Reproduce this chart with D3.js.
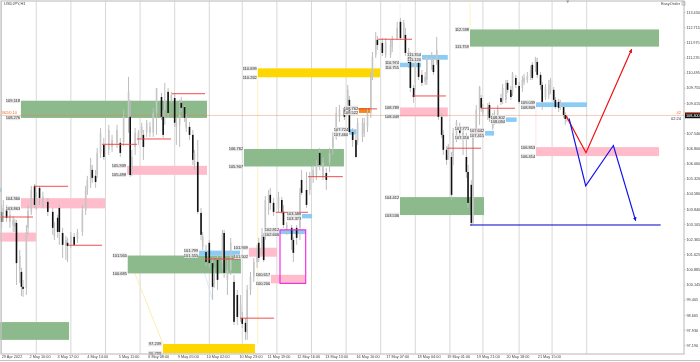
<!DOCTYPE html>
<html>
<head>
<meta charset="utf-8">
<script src="https://cdn.jsdelivr.net/npm/d3@7"></script>
<style>
  html, body { margin: 0; background: #fff; overflow: hidden; }
  svg { display: block; font-family: "Liberation Sans", sans-serif; filter: blur(0.3px); }
</style>
</head>
<body>
<svg width="700" height="362"></svg>
<script>
// bar number on the time axis, one entry per candle
let barIndex = [
  1,2,4,6,8,9,10,12,13,14,
  16,17,19,21,22,24,26,29,32,33,
  35,36,38,40,41,43,45,47,50,52,
  53,55,56,58,59,61,63,66,68,71,
  73,75,78,79,80,82,84,86,87,89,
  91,93,95,98,99,100,102,104,106,107,
  109,110,112,113,115,117,118,120,122,123,
  125,127,129,130,132,135,136,138,140,142,
  144,146,147,149,150,152,154,156,157,159,
  160,161,163,164,166,169,171,172,174,177,
  178,180,182,183,186,188,190,192,194,196,
  198,200,202,204,206,209,211,212,214,216,
  217,220,221,223,225,226,228,229,232,234,
  237,238,241,243,245,246,248,249,251,252,
  254,256,258,259,262,263,265,266,268,269,
  271,272,274,275,277,279,281,283,284,286,
  287,289,291,292,293,296,297,299,300,302,
  304,305,307,308,310,311,313,315,317,318,
  320,322,323,325,326,328,329,331,333,334,
  336,337,339,340,342,343,344
]

let opens = [
  103.69,103.49,103.79,103.20,103.01,102.96,103.15,100.86,100.76,100.03,
  99.98,102.91,103.69,104.96,103.93,104.86,104.08,104.18,103.69,102.52,
  103.40,103.88,102.66,102.03,102.18,102.13,102.47,102.37,102.71,103.79,
  104.76,105.25,105.74,105.45,105.49,106.57,106.96,106.72,106.86,107.06,
  107.06,107.10,108.33,108.33,105.59,106.86,107.20,107.55,107.45,107.59,
  107.55,107.55,108.52,109.30,108.33,108.67,109.55,109.16,109.25,107.84,
  107.94,109.01,108.81,107.79,107.84,107.45,105.98,106.13,103.64,101.98,
  101.73,102.18,101.19,100.22,101.34,101.19,102.66,100.37,100.86,100.27,
  99.63,98.66,98.51,98.27,97.78,99.88,100.52,101.24,102.18,101.83,
  102.47,102.47,104.27,104.52,104.13,103.88,104.27,103.69,102.81,102.91,
  102.32,102.91,102.91,105.25,104.76,104.76,105.40,105.49,106.57,105.40,
  105.59,106.08,106.81,107.35,108.33,108.67,109.01,109.16,107.59,107.20,
  107.15,107.35,107.55,107.84,108.52,110.28,111.35,112.09,111.94,111.35,
  111.35,111.74,112.18,112.97,112.33,112.33,111.45,111.35,109.74,109.99,
  110.96,110.38,110.04,110.13,110.87,110.87,111.01,111.11,108.33,107.45,
  106.72,106.47,106.37,106.37,107.30,107.84,107.20,106.37,105.64,105.01,
  103.15,107.55,108.67,109.25,108.52,108.42,108.91,107.79,108.08,108.33,
  109.25,109.16,109.16,109.99,109.65,109.50,110.23,109.84,109.74,110.04,
  110.13,110.28,110.87,110.72,111.01,110.38,109.89,109.30,109.40,109.65,
  109.65,109.16,109.06,108.81,108.81,108.42,108.23
]

let closes = [
  103.20,103.88,103.40,103.55,103.30,103.20,101.19,101.54,100.03,99.93,
  102.71,103.74,104.76,104.03,104.42,104.37,104.42,103.69,102.91,102.91,
  102.71,102.71,102.08,102.32,102.03,102.52,102.08,102.71,103.79,104.76,
  105.25,105.98,105.35,105.15,106.57,107.55,106.37,107.69,107.20,107.69,
  106.57,108.33,109.55,105.49,106.37,107.55,107.55,107.84,106.86,108.04,
  107.84,108.52,109.74,108.33,107.45,109.16,108.52,109.40,108.04,108.08,
  108.42,108.77,108.28,108.28,107.45,106.23,106.57,103.69,102.57,102.47,
  101.24,101.19,100.03,100.71,100.37,102.66,100.71,100.86,102.18,98.32,
  98.56,99.15,98.22,97.83,99.88,100.52,101.24,101.83,101.44,102.57,
  101.34,104.27,104.52,104.13,103.69,104.42,103.69,103.05,103.05,102.32,
  101.69,102.42,104.62,104.62,104.03,105.40,105.74,105.98,105.98,106.08,
  105.25,106.57,107.35,108.52,108.67,108.33,109.65,107.59,107.20,106.37,
  108.04,108.04,108.04,108.52,110.28,111.26,112.09,111.84,111.45,111.99,
  111.84,112.09,112.67,112.18,112.92,111.45,110.96,109.74,109.30,110.96,
  110.28,109.99,110.28,111.26,111.26,110.52,111.60,108.33,107.45,106.72,
  106.23,106.81,104.52,107.55,108.08,107.55,107.55,105.64,104.13,103.15,
  107.55,108.67,109.79,108.77,108.77,108.81,108.28,108.33,108.42,108.67,
  109.06,109.74,109.99,109.65,109.30,110.48,109.89,109.06,110.13,110.23,
  110.33,110.62,110.23,111.21,110.38,109.89,109.06,109.79,109.89,110.13,
  109.16,108.81,108.77,109.01,108.42,108.23,108.38
]

let highs = [
  104.03,104.27,104.03,103.79,103.49,103.35,103.30,101.83,100.96,100.37,
  103.05,104.03,104.96,105.06,104.67,104.96,104.67,104.37,103.88,103.20,
  103.54,104.03,102.91,102.52,102.42,102.71,102.66,102.86,104.03,104.96,
  105.45,106.33,105.98,105.74,106.81,107.79,107.30,107.94,107.45,107.94,
  107.30,108.67,110.28,109.16,106.72,107.79,107.69,108.04,107.69,108.18,
  108.08,108.77,109.74,109.50,108.67,109.99,109.74,109.55,109.50,108.28,
  109.16,109.30,108.91,108.47,108.08,107.69,106.72,107.20,103.88,102.71,
  102.08,102.32,101.44,100.96,101.59,102.81,102.81,101.34,102.42,100.61,
  99.88,99.63,98.80,98.51,100.12,100.76,101.44,102.08,102.42,102.91,
  102.66,104.47,104.76,104.86,104.37,104.67,104.42,104.03,103.20,103.05,
  102.47,103.05,104.86,105.74,105.64,105.64,105.98,106.23,106.81,106.33,
  105.84,106.81,107.59,108.81,108.91,108.86,109.89,109.35,107.79,107.45,
  108.28,108.28,108.28,108.77,110.52,111.50,112.48,112.28,112.18,112.18,
  112.09,112.28,112.97,113.16,113.06,112.67,111.70,111.50,109.89,111.21,
  111.11,110.62,110.52,111.35,111.50,111.11,112.23,111.26,108.52,107.69,
  106.91,107.01,106.62,107.79,108.18,108.04,107.79,107.55,105.98,105.25,
  107.69,108.91,109.84,109.40,108.96,109.01,109.06,108.52,108.67,108.91,
  109.45,109.94,110.13,110.13,109.84,110.52,110.38,110.04,110.33,110.43,
  110.52,110.82,111.01,111.26,111.21,110.52,110.04,109.94,110.13,110.23,
  109.79,109.30,109.21,109.16,108.96,108.57,108.42
]

let lows = [
  102.91,103.20,103.20,102.91,102.71,102.71,100.12,100.22,99.58,99.54,
  99.63,102.57,103.54,103.88,103.79,104.03,103.88,103.49,102.57,102.32,
  102.42,102.08,101.44,101.34,101.24,101.93,102.03,102.18,102.52,103.54,
  104.52,104.86,105.10,104.86,105.35,106.33,106.23,106.47,106.62,106.81,
  106.37,106.91,107.55,105.40,105.45,106.47,106.96,107.30,106.23,107.35,
  107.35,107.35,107.45,108.18,107.30,107.94,108.28,109.01,107.84,106.96,
  106.86,108.57,108.08,107.59,107.20,105.98,105.74,103.59,102.32,101.83,
  101.05,100.96,99.39,99.98,99.88,100.86,100.47,99.63,100.61,98.17,
  98.17,98.32,98.02,97.44,97.44,99.63,100.27,100.96,101.24,101.59,
  101.24,102.32,103.54,103.79,103.49,103.69,103.59,102.91,102.57,101.83,
  101.24,102.08,102.32,104.52,103.88,104.52,105.10,105.25,105.74,105.25,
  104.76,105.64,106.47,107.20,108.08,108.18,108.77,107.50,106.86,106.33,
  106.96,107.10,107.35,107.59,108.28,110.13,111.21,111.60,111.30,111.21,
  111.21,111.50,112.09,112.09,112.18,111.30,110.72,109.55,109.01,109.65,
  110.13,109.84,109.89,109.89,110.62,110.38,110.87,108.18,107.30,106.47,
  105.98,106.23,104.27,105.98,107.10,107.20,106.47,105.35,103.88,103.01,
  103.10,107.30,107.94,108.57,108.37,108.18,108.08,107.69,107.94,108.13,
  108.91,108.96,109.01,109.50,109.16,109.35,109.74,108.96,109.55,109.89,
  109.99,110.13,110.13,110.52,110.23,109.65,108.67,109.16,109.21,109.45,
  109.06,108.72,108.57,108.67,108.28,107.94,108.08
]

// supply / demand boxes, in bars and prices
let zoneStart = [12.7,77.1,12.7,0,0,77.5,120.8,98.9,156.4,148,151,164.4,169.9,183.3,211.8,217.8,242.7,242.7,256.1,285.2,242.7,325.2,325.2,306.9,285.2,294.3,0]
let zoneEnd = [125.6,125.6,63.7,21.8,41.9,146.2,145.6,154.7,230.6,208.7,168.1,185.1,185.5,189.3,216.4,225.1,271.7,255.5,271.7,399.9,293.7,399.9,356.2,313.5,293.7,299.8,0.9]
let zoneTop = [109.118,105.939,104.36,102.68,98.31,101.56,101.799,97.239,110.699,106.762,101.939,100.617,102.812,103.588,107.724,108.762,108.789,110.974,111.354,112.598,104.412,106.853,109.039,108.302,107.771,107.642,104.86]
let zoneBottom = [108.276,105.498,103.863,102.24,97.44,100.685,101.555,96.788,110.262,105.907,101.502,100.2,102.606,103.373,107.46,108.522,108.349,110.755,111.12,111.759,103.536,106.414,108.809,108.084,107.316,107.415,104.66]
let zoneKind = ['green','pink','pink','pink','green','green','blue','yellow','yellow','green','pink','pink','blue','blue','blue','orange','pink','blue','blue','green','green','pink','blue','blue','pink','blue','blue']
let zoneTagged = [1,1,1,0,0,1,1,1,1,1,1,1,1,1,1,1,1,1,1,1,1,1,1,1,1,1,0]

// red swing levels
let levelStart = [61.9,83.1,104.4,0,20.6,41.3,124.4,145.6,167.3,186.9,208.1,229.4,250,271.2,291.9]
let levelEnd = [83.1,103.8,124.4,20,41.3,61.9,145.6,166.3,186.9,208,228.8,250,270.6,291.9,312.5]
let levelPrice = [106.99,107.25,109.46,103.44,104.94,102.06,101.39,98.5,103.67,105.41,108.72,112.12,109.35,106.8,108.75]

// hand drawn projections
let redPathBars = [343.4,355.6,383.3]
let redPathPrices = [108.39,106.58,111.63]
let bluePathBars = [345.3,355.4,372.2,385.7]
let bluePathPrices = [108.26,104.96,106.93,103.26]
let supportPrice = 103.05
let supportBars = [285.2,400.9]
let currentPrice = 108.4

let priceTicks = ['113.450','112.715','111.975','111.235','110.495','109.755','109.015','107.540','106.800','106.060','105.320','104.580','103.840','103.105','102.365','101.625','100.885','100.145','99.405','98.665','97.930','97.190']
let gridBars = [0.9,22,43,64,85,106,127,147,168,189,210,231,252,273,293,315,335,356]
let timeBars = [7,24,41,59,78,96,114,132,152,169,187,204,223,241,260,278,296,314,333]
let timeLabels = ['29 Apr 2022','2 May 10:00','3 May 17:00','4 May 14:00','5 May 11:00','6 May 08:00','9 May 05:00','10 May 02:00','10 May 23:00','11 May 19:00','12 May 16:00','13 May 13:00','16 May 10:00','17 May 07:00','18 May 04:00','19 May 01:00','19 May 21:00','20 May 18:00','21 May 15:00']

let width = 700
let plotRight = 684
let plotTop = 1
let plotBottom = 354
let zoneColor = { green: '#8cba8c', pink: '#ffbccb', blue: '#8accf5', yellow: '#ffd700', orange: '#f08a10' }

let xScale = d3.scaleLinear().domain([0, 400]).range([0, 659.2])
let yScale = d3.scaleLinear().domain([113.45, 97.19]).range([12, 345])

let svg = d3.select('svg')

let defs = svg.append('defs')
;[['arrow-red', '#ee1111'], ['arrow-blue', '#1111ee']].forEach(([id, color]) => {
  defs.append('marker')
    .attr('id', id)
    .attr('viewBox', '0 0 10 10')
    .attr('refX', 9)
    .attr('refY', 5)
    .attr('markerWidth', 3.2)
    .attr('markerHeight', 3.2)
    .attr('orient', 'auto')
    .append('path')
    .attr('d', 'M0,0L10,5L0,10z')
    .attr('fill', color)
})

// grid
svg.append('g').selectAll('line')
  .data(gridBars)
  .enter()
  .append('line')
  .attr('x1', d => xScale(d))
  .attr('x2', d => xScale(d))
  .attr('y1', plotTop)
  .attr('y2', plotBottom)
  .attr('stroke', '#d8d8d8')
  .attr('stroke-width', 1)

// faint helper lines that hang off some boxes
let faintLine = (x1, y1, x2, y2, color) => svg.append('line')
  .attr('x1', xScale(x1)).attr('x2', xScale(x2))
  .attr('y1', yScale(y1)).attr('y2', yScale(y2))
  .attr('stroke', color).attr('stroke-width', 0.8)
faintLine(77.5, 101.56, 98.9, 97.239, '#fbe9a0')
faintLine(120.8, 101.555, 129, 99.4, '#cfe6f7')
faintLine(156.4, 110.262, 156.4, 97.239, '#fbf0b8')
faintLine(285.2, 113.9, 285.2, 112.6, '#fbf0b8')
faintLine(325.2, 108.809, 325.2, 106.853, '#fbdde3')
faintLine(242.7, 113.9, 242.7, 104.412, '#e4f1e4')

// zones
let zoneIds = d3.range(zoneStart.length)
svg.append('g').selectAll('rect')
  .data(zoneIds)
  .enter()
  .append('rect')
  .attr('x', i => xScale(zoneStart[i]))
  .attr('y', i => yScale(zoneTop[i]))
  .attr('width', i => xScale(zoneEnd[i]) - xScale(zoneStart[i]))
  .attr('height', i => yScale(zoneBottom[i]) - yScale(zoneTop[i]))
  .attr('fill', i => zoneColor[zoneKind[i]])

// current price line
svg.append('line')
  .attr('x1', 0)
  .attr('x2', plotRight)
  .attr('y1', yScale(currentPrice))
  .attr('y2', yScale(currentPrice))
  .attr('stroke', '#ec7a50')
  .attr('stroke-opacity', 0.4)
  .attr('stroke-width', 1)

// candles
let candle = svg.append('g').selectAll('g')
  .data(barIndex.map((b, i) => i))
  .enter()
  .append('g')

candle.append('line')
  .attr('x1', i => xScale(barIndex[i]))
  .attr('x2', i => xScale(barIndex[i]))
  .attr('y1', i => yScale(highs[i]))
  .attr('y2', i => yScale(lows[i]))
  .attr('stroke', '#bdbdbd')
  .attr('stroke-width', 1)

candle.append('rect')
  .attr('x', i => xScale(barIndex[i]) - 0.8)
  .attr('width', 1.6)
  .attr('y', i => yScale(Math.max(opens[i], closes[i])))
  .attr('height', i => Math.max(1, Math.abs(yScale(opens[i]) - yScale(closes[i]))))
  .attr('fill', i => closes[i] < opens[i] ? '#111' : '#c6c6c6')

// swing levels
svg.append('g').selectAll('line')
  .data(levelPrice)
  .enter()
  .append('line')
  .attr('x1', (d, i) => xScale(levelStart[i]))
  .attr('x2', (d, i) => xScale(levelEnd[i]))
  .attr('y1', d => yScale(d))
  .attr('y2', d => yScale(d))
  .attr('stroke', '#f03a3a')
  .attr('stroke-width', 0.9)

// magenta box
svg.append('rect')
  .attr('x', xScale(169.9))
  .attr('y', yScale(102.812))
  .attr('width', xScale(185.5) - xScale(169.9))
  .attr('height', yScale(100.2) - yScale(102.812))
  .attr('fill', 'none')
  .attr('stroke', '#f01fe0')
  .attr('stroke-width', 1.1)

// projections
let pathLine = d3.line().x(d => xScale(d[0])).y(d => yScale(d[1]))
svg.append('path')
  .attr('d', pathLine(d3.zip(redPathBars, redPathPrices)))
  .attr('fill', 'none')
  .attr('stroke', '#ee1111')
  .attr('stroke-width', 1.2)
  .attr('marker-end', 'url(#arrow-red)')
svg.append('path')
  .attr('d', pathLine(d3.zip(bluePathBars, bluePathPrices)))
  .attr('fill', 'none')
  .attr('stroke', '#1111ee')
  .attr('stroke-width', 1.2)
  .attr('marker-end', 'url(#arrow-blue)')
svg.append('line')
  .attr('x1', xScale(supportBars[0]))
  .attr('x2', xScale(supportBars[1]))
  .attr('y1', yScale(supportPrice))
  .attr('y2', yScale(supportPrice))
  .attr('stroke', '#0000cc')
  .attr('stroke-width', 1)

// price tags left of each box
let fmt = d3.format('.3f')
let tags = []
zoneIds.filter(i => zoneTagged[i]).forEach(i => {
  tags.push({ bar: zoneStart[i], price: zoneTop[i] })
  tags.push({ bar: zoneStart[i], price: zoneBottom[i] })
})
let tag = svg.append('g').selectAll('g')
  .data(tags)
  .enter()
  .append('g')
  .attr('transform', d => 'translate(' + [xScale(d.bar) - 1, yScale(d.price)] + ')')
tag.append('rect')
  .attr('x', -14)
  .attr('y', -2.2)
  .attr('width', 14)
  .attr('height', 4.4)
  .attr('fill', '#e6e6e6')
tag.append('text')
  .attr('x', -7)
  .attr('y', 1.5)
  .attr('text-anchor', 'middle')
  .attr('font-size', 4)
  .attr('fill', '#333')
  .text(d => fmt(d.price))

// axes
let yAxis = d3.axisRight(yScale)
  .tickValues(priceTicks.map(Number))
  .tickFormat(fmt)
  .tickSize(1.5)
  .tickPadding(1)
let xAxis = d3.axisBottom(xScale)
  .tickValues(timeBars)
  .tickFormat((d, i) => timeLabels[i])
  .tickSize(0)
  .tickPadding(1)

let yAxisGroup = svg.append('g')
  .attr('transform', 'translate(' + [plotRight, 0] + ')')
  .call(yAxis)
let xAxisGroup = svg.append('g')
  .attr('transform', 'translate(' + [0, plotBottom] + ')')
  .call(xAxis)
yAxisGroup.select('.domain').remove()
xAxisGroup.select('.domain').remove()
yAxisGroup.selectAll('line').attr('stroke', '#999').attr('stroke-width', 0.6)
yAxisGroup.selectAll('text').attr('font-size', 3.8).attr('font-family', 'Liberation Sans').attr('fill', '#444')
xAxisGroup.selectAll('text').attr('font-size', 3.8).attr('font-family', 'Liberation Sans').attr('fill', '#444')

// frame
svg.append('rect')
  .attr('x', 1)
  .attr('y', plotTop)
  .attr('width', plotRight - 1)
  .attr('height', plotBottom - plotTop)
  .attr('fill', 'none')
  .attr('stroke', '#c4c4c4')
  .attr('stroke-width', 1.2)
svg.append('line')
  .attr('x1', 0)
  .attr('x2', width)
  .attr('y1', 360.5)
  .attr('y2', 360.5)
  .attr('stroke', '#c4c4c4')
  .attr('stroke-width', 1)

// corner texts
let note = (x, y, text, color, anchor) => svg.append('text')
  .attr('x', x).attr('y', y)
  .attr('text-anchor', anchor || 'start')
  .attr('font-size', 4)
  .attr('fill', color)
  .text(text)
note(4, 4.8, 'USDJPY,H1', '#444')
note(680, 5, 'EasyOrder', '#444', 'end')
note(1.5, 113.6, '362/0.10', '#f07030')
note(681, 114, '42', '#f07030', 'end')
note(681, 119.6, '02:24', '#333', 'end')

svg.append('rect')
  .attr('x', 682)
  .attr('y', 2)
  .attr('width', 3)
  .attr('height', 3)
  .attr('fill', 'none')
  .attr('stroke', '#888')
  .attr('stroke-width', 0.5)

// current price tag on the axis
svg.append('rect')
  .attr('x', plotRight + 1)
  .attr('y', yScale(currentPrice) - 2.8)
  .attr('width', 15)
  .attr('height', 5.6)
  .attr('fill', '#111')
svg.append('rect')
  .attr('x', plotRight + 1)
  .attr('y', yScale(currentPrice) - 2.8)
  .attr('width', 15)
  .attr('height', 0.8)
  .attr('fill', '#e03010')
svg.append('text')
  .attr('x', plotRight + 2)
  .attr('y', yScale(currentPrice) + 2)
  .attr('font-size', 3.8)
  .attr('fill', '#fff')
  .text(fmt(currentPrice))

// small marker on top of the last bar
svg.append('path')
  .attr('d', d3.symbol(d3.symbolTriangle, 4)())
  .attr('transform', 'translate(' + [xScale(344.5), 1.5] + ') rotate(180)')
  .attr('fill', '#999')
</script>
</body>
</html>
